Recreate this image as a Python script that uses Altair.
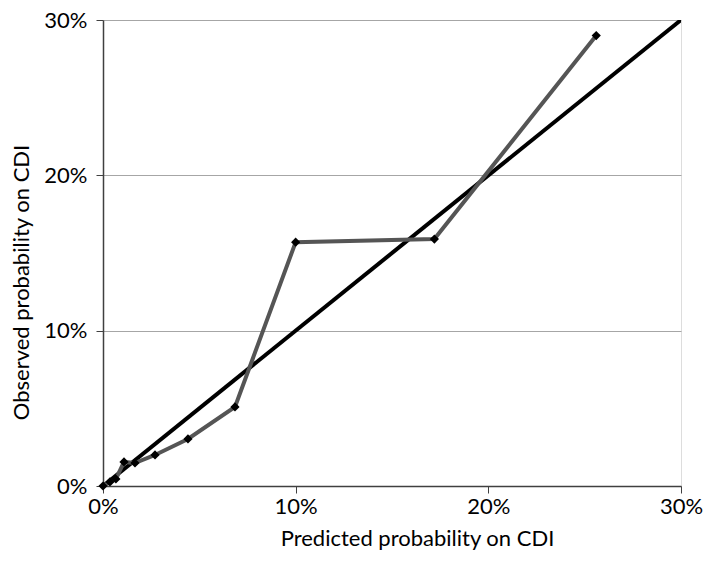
import altair as alt
import pandas as pd

predicted = [0.0, 0.36, 0.67, 1.09, 1.66, 2.70, 4.41, 6.85, 10.0, 17.2, 25.6]
observed = [0.0, 0.26, 0.45, 1.55, 1.48, 2.0, 3.03, 5.09, 15.7, 15.9, 29.0]
diag_x = [0.0, 30.0]
diag_y = [0.0, 30.0]
ticks = [0, 10, 20, 30]

series = pd.DataFrame({"x": [v / 100 for v in predicted], "y": [v / 100 for v in observed]})
diag = pd.DataFrame({"x": [v / 100 for v in diag_x], "y": [v / 100 for v in diag_y]})
tick_vals = [t / 100 for t in ticks]

FONT = "Lato"
FS = 22

xscale = alt.Scale(domain=[0, 0.3], nice=False)
yscale = alt.Scale(domain=[0, 0.3], nice=False)

xenc = alt.X("x:Q", scale=xscale, axis=alt.Axis(
    title="Predicted probability on CDI", values=tick_vals, format=".0%",
    grid=False, domainColor="#404040", domainWidth=1.5, tickColor="#404040",
    tickSize=7, labelFontSize=FS, titleFontSize=FS, labelFont=FONT, titleFont=FONT,
    labelColor="black", titleColor="black", titleFontWeight="normal", labelPadding=3,
    labelFlush=False, titlePadding=11, titleX=314))
yenc = alt.Y("y:Q", scale=yscale, axis=alt.Axis(
    title="Observed probability on CDI", values=tick_vals, format=".0%",
    grid=True, gridColor="#a6a6a6", gridWidth=1, domainColor="#404040", domainWidth=1.5,
    tickColor="#404040", tickSize=7, labelFontSize=FS, titleFontSize=FS,
    labelFont=FONT, titleFont=FONT, labelColor="black", titleColor="black",
    titleFontWeight="normal", labelPadding=9, labelFlush=False, titlePadding=10,
    titleY=262))

diag_line = alt.Chart(diag).mark_line(color="black", strokeWidth=4, clip=True).encode(x=xenc, y=yenc)
ser_line = alt.Chart(series).mark_line(color="#555555", strokeWidth=4).encode(x="x:Q", y="y:Q")
ser_pts = alt.Chart(series).mark_point(shape="diamond", filled=True, color="black", size=85, opacity=1).encode(x="x:Q", y="y:Q")

chart = alt.layer(diag_line, ser_line, ser_pts).properties(
    width=578, height=466,
    padding={"left": 103, "top": 20, "right": 25, "bottom": 78},
    autosize=alt.AutoSizeParams(type="none"),
).configure_view(stroke="#888888", strokeWidth=1.5).configure(background="white")

chart.save("out.html", embed_options={"renderer": "svg", "actions": False})
